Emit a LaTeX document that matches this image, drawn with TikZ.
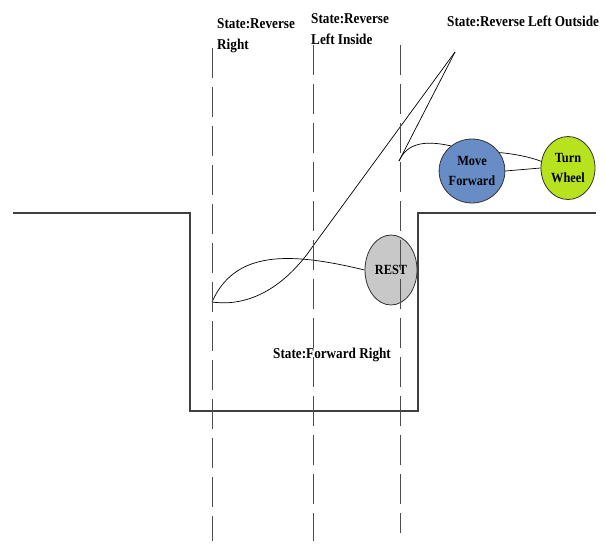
\documentclass[tikz,border=0pt]{standalone}
\usepackage{fontspec}
\setmainfont[FakeStretch=0.88]{Liberation Serif}
\usetikzlibrary{shapes.geometric}

\definecolor{restgray}{RGB}{200,200,200}
\definecolor{moveblue}{RGB}{104,140,198}
\definecolor{wheelgreen}{RGB}{183,226,30}

\tikzset{
  wall/.style={draw=black!75, line width=1.3pt},
  lane/.style={draw=black!70, line width=1pt, dash pattern=on 30pt off 9pt},
  track/.style={draw=black, line width=0.7pt},
  state/.style={ellipse, draw=black!80, line width=0.8pt, inner sep=0pt,
    align=center, font=\bfseries\fontsize{14}{20}\selectfont},
  statelabel/.style={anchor=north west, align=left, inner sep=0pt,
    font=\bfseries\fontsize{15}{21}\selectfont}
}

\begin{document}
\begin{tikzpicture}[x=1pt, y=-1pt]
  \useasboundingbox (0,0) rectangle (609,544);

  % parking slot
  \draw[wall] (13,213) -- (190,213) -- (190,411) -- (418,411) -- (418,213) -- (596,213);

  % states
  \node[state, fill=restgray, minimum width=52pt, minimum height=70pt] (rest) at (391,270) {REST};
  \node[state, fill=moveblue, minimum width=56pt, minimum height=64pt] (mf) at (472,171) {Move\\Forward};
  \node[state, fill=wheelgreen, minimum width=54pt, minimum height=63pt] (tw) at (568,168) {Turn\\Wheel};

  \node[statelabel] (rr) at (217,18) {State:Reverse\\Right};
  \node[statelabel] (rli) at (311,13) {State:Reverse\\Left Inside};
  \node[statelabel] (rlo) at (447,16) {State:Reverse Left Outside};
  \node[statelabel] (fr) at (273,348) {State:Forward Right};

  \coordinate (start) at (212,302);
  \coordinate (tip) at (455,52);
  \coordinate (kink) at (399,161);
  \coordinate (cross) at (313,246);

  % car path
  \draw[track] (start) .. controls (235,250) and (290,252) .. (rest.west);
  \draw[track] (start) .. controls (255,308) and (290,280) .. (cross) -- (tip);
  \draw[track] (tip) -- (kink);
  \draw[track] (kink) .. controls (407,143) and (425,140) .. (mf.130);
  \draw[track] (mf.34) .. controls (515,154) and (530,157) .. (tw.166);
  \draw[track] (mf.east) -- (tw.west);

  % state boundaries
  \draw[lane] (212,48) -- (212,541);
  \draw[lane] (313,45) -- (313,541);
  \draw[lane] (400,45) -- (400,533);
\end{tikzpicture}
\end{document}
